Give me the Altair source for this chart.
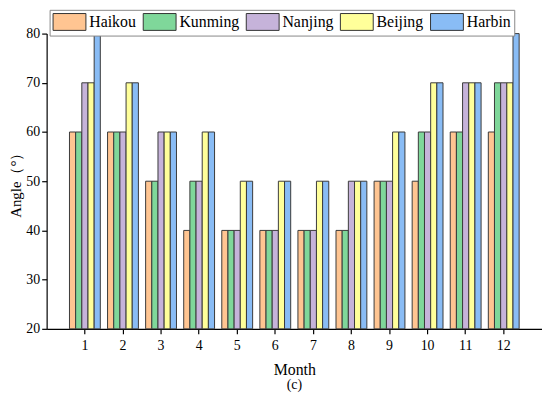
import altair as alt
import pandas as pd

months = [str(m) for m in range(1, 13)]
cities = ["Haikou", "Kunming", "Nanjing", "Beijing", "Harbin"]
haikou = [60, 60, 50, 40, 40, 40, 40, 40, 50, 50, 60, 60]
kunming = [60, 60, 50, 50, 40, 40, 40, 40, 50, 60, 60, 70]
nanjing = [70, 60, 60, 50, 40, 40, 40, 50, 50, 60, 70, 70]
beijing = [70, 70, 60, 60, 50, 50, 50, 50, 60, 70, 70, 70]
harbin = [80, 70, 60, 60, 50, 50, 50, 50, 60, 70, 70, 80]
colors = ["#FFC592", "#7FD79A", "#C6B3DA", "#FFFF9A", "#89BCF5"]

series = [haikou, kunming, nanjing, beijing, harbin]
rows = []
for c, vals in zip(cities, series):
    for m, v in zip(months, vals):
        rows.append({"Month": m, "City": c, "Angle": v})
df = pd.DataFrame(rows)

FONT = "Liberation Serif, Times New Roman, serif"

bars = alt.Chart(df).mark_bar(stroke="#3a3a3a", strokeWidth=1, opacity=1).encode(
    x=alt.X("Month:N", sort=months,
            scale=alt.Scale(paddingInner=0.19, paddingOuter=0.6),
            axis=alt.Axis(title="Month", labelAngle=0, tickSize=5, labelPadding=5,
                          titlePadding=9)),
    xOffset=alt.XOffset("City:N", sort=cities, scale=alt.Scale(paddingInner=0, paddingOuter=0)),
    y=alt.Y("Angle:Q", scale=alt.Scale(domain=[20, 80], zero=False, nice=False),
            axis=alt.Axis(title="Angle（°）", values=[20, 30, 40, 50, 60, 70, 80],
                          tickSize=5, grid=False, labelPadding=2, titlePadding=2,
                          titleFontSize=15)),
    y2=alt.datum(20),
    color=alt.Color("City:N", sort=cities,
                    scale=alt.Scale(domain=cities, range=colors),
                    legend=alt.Legend(title=None, orient="none", direction="horizontal",
                                      legendX=3, legendY=-24,
                                      symbolType="M-1,-1H2.9V1H-1Z", symbolSize=289,
                                      symbolStrokeColor="#333", symbolStrokeWidth=1,
                                      symbolOpacity=1, labelOffset=19, columnPadding=4,
                                      labelFont=FONT, labelFontSize=16, labelColor="black",
                                      strokeColor="#888", fillColor="white", padding=3)),
)

chart = bars.properties(
    width=500, height=298,
    autosize=alt.AutoSizeParams(type="none"),
    padding={"left": 39, "top": 24, "right": 0, "bottom": 70},
    title=alt.TitleParams("(c)", orient="bottom", anchor="middle", font=FONT,
                          fontSize=14, fontWeight="normal", color="black", offset=1),
).configure(font=FONT).configure_view(stroke=None).configure_axis(
    labelFont=FONT, titleFont=FONT, labelColor="black", titleColor="black",
    labelFontSize=14, titleFontSize=16, titleFontWeight="normal",
    domainColor="black", tickColor="black", domainWidth=1.2, tickWidth=1.2,
).configure_legend(labelFont=FONT)

chart.save("out.html", embed_options={"renderer": "svg", "actions": False})
